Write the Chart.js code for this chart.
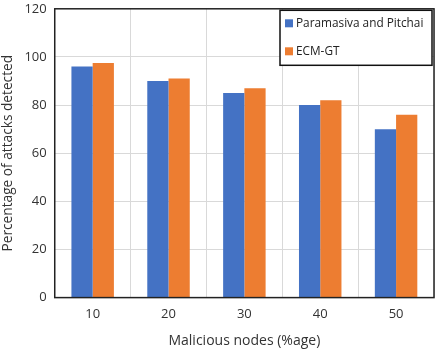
<!DOCTYPE html>
<html>
<head>
<meta charset="utf-8">
<script src="https://cdn.jsdelivr.net/npm/chart.js@4/dist/chart.umd.min.js"></script>
<style>
  html, body { margin: 0; padding: 0; background: #fff; overflow: hidden; }
  #wrap { width: 439px; height: 359px; margin-top: -7px; }
</style>
</head>
<body>
<div id="wrap"><canvas id="grafico"></canvas></div>
<script>
var categorias = ["10", "20", "30", "40", "50"];
var paramasiva = [96, 90, 85, 80, 70];
var ecmgt = [97.5, 91, 87, 82, 76];
var nomes = ["Paramasiva and Pitchai", "ECM-GT"];
var cores = ["#4472C4", "#ED7D31"];

// moldura preta em volta da area do grafico + legenda dentro dela
var moldura = {
  id: 'moldura',
  afterDatasetsDraw: function(chart) {
    var a = chart.chartArea;
    var ctx = chart.ctx;
    ctx.save();
    ctx.strokeStyle = '#222';
    ctx.lineWidth = 1.5;
    ctx.strokeRect(a.left, a.top, a.right - a.left, a.bottom - a.top);

    // legenda
    var x = a.right - 154, y = a.top + 1.5, w = 152, h = 55;
    ctx.fillStyle = '#fff';
    ctx.fillRect(x, y, w, h);
    ctx.lineWidth = 1.5;
    ctx.strokeStyle = '#111';
    ctx.strokeRect(x, y, w, h);
    ctx.font = '11.8px "Open Sans", sans-serif';
    ctx.textBaseline = 'middle';
    chart.data.datasets.forEach(function(ds, i) {
      var yy = y + 13 + i * 28;
      ctx.fillStyle = ds.backgroundColor;
      ctx.fillRect(x + 5, yy - 4, 8, 8);
      ctx.fillStyle = '#222';
      ctx.fillText(ds.label, x + 16, yy);
    });
    ctx.restore();
  }
};

new Chart(document.getElementById("grafico"), {
  type: 'bar',
  data: {
    labels: categorias,
    datasets: [{
        data: paramasiva,
        label: nomes[0],
        backgroundColor: cores[0]
      }, {
        data: ecmgt,
        label: nomes[1],
        backgroundColor: cores[1]
      }
    ]
  },
  options: {
    responsive: true,
    maintainAspectRatio: false,
    animation: false,
    layout: { padding: { top: 0, right: 5, left: 0, bottom: 3 } },
    datasets: { bar: { categoryPercentage: 0.56, barPercentage: 1 } },
    plugins: {
      legend: { display: false },
      tooltip: { enabled: false }
    },
    scales: {
      x: {
        grid: { color: '#d9d9d9', offset: true, drawTicks: false },
        border: { display: false },
        ticks: { color: '#333', font: { family: '"Open Sans", sans-serif', size: 13 }, padding: 9 },
        title: { display: true, text: 'Malicious nodes (%age)', color: '#333',
                 font: { family: '"Open Sans", sans-serif', size: 14 }, padding: { top: 1, bottom: 0 } }
      },
      y: {
        min: 0, max: 120,
        grid: { color: '#d9d9d9', drawTicks: false },
        border: { display: false },
        ticks: { stepSize: 20, color: '#333', font: { family: '"Open Sans", sans-serif', size: 13 }, padding: 8 },
        title: { display: true, text: 'Percentage of attacks detected', color: '#333',
                 font: { family: '"Open Sans", sans-serif', size: 13.7 }, padding: { top: 0, bottom: 0 } }
      }
    }
  },
  plugins: [moldura]
});
</script>
</body>
</html>
